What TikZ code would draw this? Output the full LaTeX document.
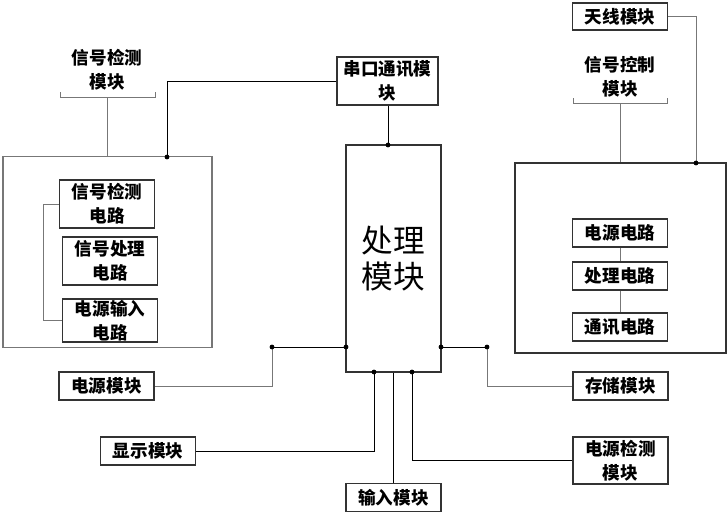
\documentclass[tikz,border=0pt]{standalone}
\usepackage{fontspec}
\newfontfamily\cjk{Noto Sans CJK SC}
\usetikzlibrary{positioning}
\definecolor{frame}{HTML}{333333}
\definecolor{muted}{HTML}{777777}
\tikzset{
  modbox/.style={draw=frame,line width=0.8pt,minimum width=2.375cm,minimum height=0.7cm,
    inner sep=0pt,align=center,font=\cjk\bfseries\fontsize{12.5}{17}\selectfont},
  modtall/.style={modbox,minimum height=1.2cm},
  grp/.style={draw=muted,line width=0.8pt,inner sep=0pt},
  lab/.style={align=center,inner sep=0pt,font=\cjk\bfseries\fontsize{12.5}{17}\selectfont},
  wire/.style={line width=0.7pt,black},
  gwire/.style={line width=0.7pt,muted},
}

\begin{document}
\begin{tikzpicture}[x=0.025cm,y=-0.025cm]
    \useasboundingbox (0,0) rectangle (727,513);
    % processing unit and serial port
    \node[draw=frame,line width=0.8pt,minimum width=2.375cm,minimum height=5.675cm,inner sep=0pt,align=center,
      font=\cjk\fontsize{22.5}{26}\selectfont] (proc) at (393.5,258.5) {处理\\模块};
    \node[modtall,minimum width=2.525cm] (serial) at (387.5,81) {串口通讯模\\块};
    % left group — signal detection
    \node[lab] (detlab) at (107,70) {信号检测\\模块};
    \node[grp,minimum width=5.225cm,minimum height=4.775cm] (leftgrp) at (107.5,252) {};
    \node[modtall] (detc) at (107,204) {信号检测\\电路};
    \node[modtall] (procc) at (110,261) {信号处理\\电路};
    \node[modbox,minimum height=1.075cm] (pinc) at (110,320.5) {电源输入\\电路};
    % right group — signal control
    \node[modbox,minimum height=0.675cm] (ant) at (620,16.5) {天线模块};
    \node[lab] (ctllab) at (620,77) {信号控制\\模块};
    \node[draw=frame,line width=0.8pt,inner sep=0pt,minimum width=5.275cm,minimum height=4.75cm] (rightgrp) at (620.5,258) {};
    \node[modbox] (pwrc) at (620,233) {电源电路};
    \node[modbox] (cpuc) at (620,276) {处理电路};
    \node[modbox] (comc) at (620,327) {通讯电路};
    % peripheral modules
    \node[modbox] (pwr) at (106.5,386) {电源模块};
    \node[modbox] (disp) at (148,451) {显示模块};
    \node[modbox] (inp) at (393.5,497.5) {输入模块};
    \node[modbox] (store) at (620.5,386) {存储模块};
    \node[modtall,minimum height=1.175cm] (pwrdet) at (620.5,460.5) {电源检测\\模块};
    % junctions
    \coordinate (jl) at (167,157);
    \coordinate (jt) at (388,145);
    \coordinate (jw) at (346,347);
    \coordinate (jwa) at (272,347);
    \coordinate (jb1) at (374,372);
    \coordinate (jb2) at (412,372);
    \coordinate (je) at (441,347);
    \coordinate (jea) at (487,347);
    \coordinate (jr) at (696,163);
    % brackets under the group labels
    \draw[gwire] (60,92) -- (60,97) -- (155,97) -- (155,92);
    \coordinate (detbr) at (107,97);
    \draw[gwire] (573,98) -- (573,103) -- (667,103) -- (667,98);
    \coordinate (ctlbr) at (620,103);
    \draw[gwire] (detbr) -- (detbr |- leftgrp.north);
    \draw[gwire] (ctlbr) -- (ctlbr |- rightgrp.north);
    % connectors
    \draw[wire] (serial.west) -| (jl);
    \draw[wire] (jt |- serial.south) -- (jt);
    \draw[gwire] (detc.west) -- ++(-15,0) |- (pinc.west);
    \draw[gwire] (ant.east) -| (jr);
    \draw[gwire] (pwrc) -- (cpuc);
    \draw[gwire] (cpuc) -- (comc);
    \draw[wire] (jw) -- (jwa);
    \draw[gwire] (jwa) |- (pwr.east);
    \draw[wire] (disp.east) -| (jb1);
    \draw[wire] (inp.north |- proc.south) -- (inp.north);
    \draw[wire] (jb2) |- (pwrdet.west);
    \draw[wire] (je) -- (jea);
    \draw[gwire] (jea) |- (store.west);
    \foreach \j in {jl,jt,jw,jwa,jb1,jb2,je,jea,jr} { \fill (\j) circle (1.7pt); }
  \end{tikzpicture}
\end{document}
